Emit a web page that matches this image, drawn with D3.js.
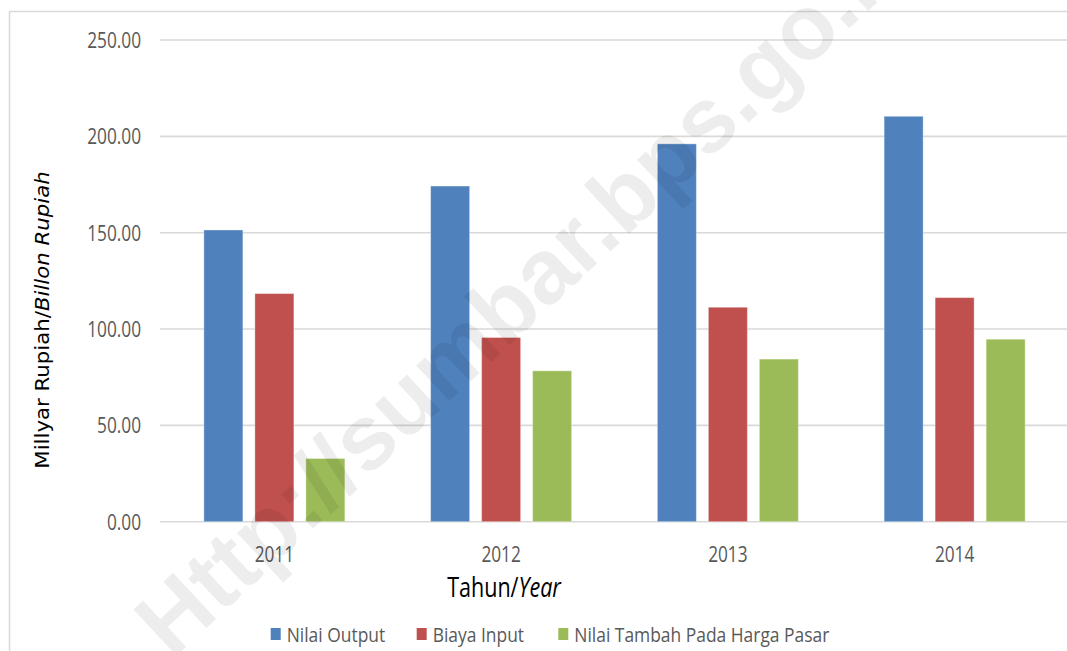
<!DOCTYPE html>
<html><head><meta charset="utf-8">
<script src="https://cdn.jsdelivr.net/npm/d3@7"></script>
<style>body{margin:0;background:#fff;overflow:hidden}svg{display:block}</style>
</head><body>
<svg id="c" width="1067" height="651"></svg>
<script>
const years = ["2011","2012","2013","2014"];
const seriesNames = ["Nilai Output","Biaya Input","Nilai Tambah Pada Harga Pasar"];
const nilaiOutput = [151.4, 174.2, 196.1, 210.4];
const biayaInput = [118.4, 95.6, 111.3, 116.3];
const nilaiTambah = [32.8, 78.3, 84.4, 94.7];
const yTicks = [0, 50, 100, 150, 200, 250];
const colors = ["#4f81bd","#c0504d","#9bbb59"];
const seriesValues = [nilaiOutput, biayaInput, nilaiTambah];

const svg = d3.select("#c");
const SX = 0.77;
const font = "'Open Sans', sans-serif";

// frame
svg.append("rect").attr("x",9.5).attr("y",11.5).attr("width",1200).attr("height",800)
  .attr("fill","none").attr("stroke","#d9d9d9").attr("stroke-width",1.5);

const x0 = d3.scaleBand().domain(years).range([161,1068]).padding(0);
const x1 = d3.scaleBand().domain(seriesNames).range([0,141]).paddingInner(12/51).paddingOuter(0);
const y = d3.scaleLinear().domain([0,250]).range([521.7,40]);

// gridlines
svg.append("g").selectAll("line").data(yTicks).join("line")
  .attr("x1",160).attr("x2",1067).attr("y1",d=>y(d)).attr("y2",d=>y(d))
  .attr("stroke","#d9d9d9").attr("stroke-width",1.6);

// y axis
const yAxis = svg.append("g").attr("transform","translate(141,0)")
  .call(d3.axisLeft(y).tickValues(yTicks).tickFormat(d3.format(".2f")).tickSize(0).tickPadding(0));
yAxis.select(".domain").remove();
yAxis.selectAll("text").attr("fill","#595959").style("font-family",font).style("font-size","22.4px")
  .attr("x",0).attr("dy","0.33em")
  .attr("transform",`scale(${SX},1)`);

// x axis
const xAxis = svg.append("g").attr("transform","translate(0,521.7)")
  .call(d3.axisBottom(x0).tickSize(0).tickPadding(0));
xAxis.select(".domain").remove();
xAxis.selectAll("text").attr("fill","#595959").style("font-family",font).style("font-size","22.4px")
  .attr("y",40).attr("dy",0).attr("transform",`scale(${SX},1)`);

// bars
const groups = svg.append("g").selectAll("g").data(years).join("g")
  .attr("transform",d=>`translate(${x0(d)+(x0.bandwidth()-141)/2},0)`);
groups.selectAll("rect").data((d,i)=>seriesNames.map((s,j)=>({s, v:seriesValues[j][i], c:colors[j]}))).join("rect")
  .attr("x",d=>x1(d.s)).attr("width",x1.bandwidth())
  .attr("y",d=>y(d.v)).attr("height",d=>y(0)-y(d.v))
  .attr("fill",d=>d.c).attr("stroke","rgba(255,255,255,0.35)").attr("stroke-width",1);

// x title
const xt = svg.append("text").attr("transform",`translate(504,597) scale(${SX},1)`)
  .attr("text-anchor","middle").style("font-family",font).style("font-size","28px").attr("fill","#000");
xt.append("tspan").text("Tahun/");
xt.append("tspan").text("Year").style("font-style","italic");

// y title
const yt = svg.append("text").attr("transform","translate(49,320) rotate(-90) scale(1.12,1)")
  .attr("text-anchor","middle").style("font-family","'DejaVu Sans', sans-serif").style("font-size","19px").attr("fill","#000");
yt.append("tspan").text("Millyar Rupiah/");
yt.append("tspan").text("Billon Rupiah").style("font-style","italic");

// legend
const legX = [270.7, 416.7, 558.3];
const leg = svg.append("g").selectAll("g").data(seriesNames).join("g")
  .attr("transform",(d,i)=>`translate(${legX[i]},628)`);
leg.append("rect").attr("width",10).attr("height",12).attr("fill",(d,i)=>colors[i]);
leg.append("text").attr("transform",`translate(16,14) scale(0.85,1)`)
  .style("font-family",font).style("font-size","20.5px").attr("fill","#595959").text(d=>d);

// watermark
svg.append("text").attr("transform","translate(172,660) rotate(-43)")
  .style("font-family","'Liberation Sans', Arial, sans-serif").style("font-weight","bold")
  .style("font-size","92px").attr("fill","#000").attr("fill-opacity",0.07)
  .style("pointer-events","none").text("Http://sumbar.bps.go.id");
</script>
</body></html>
